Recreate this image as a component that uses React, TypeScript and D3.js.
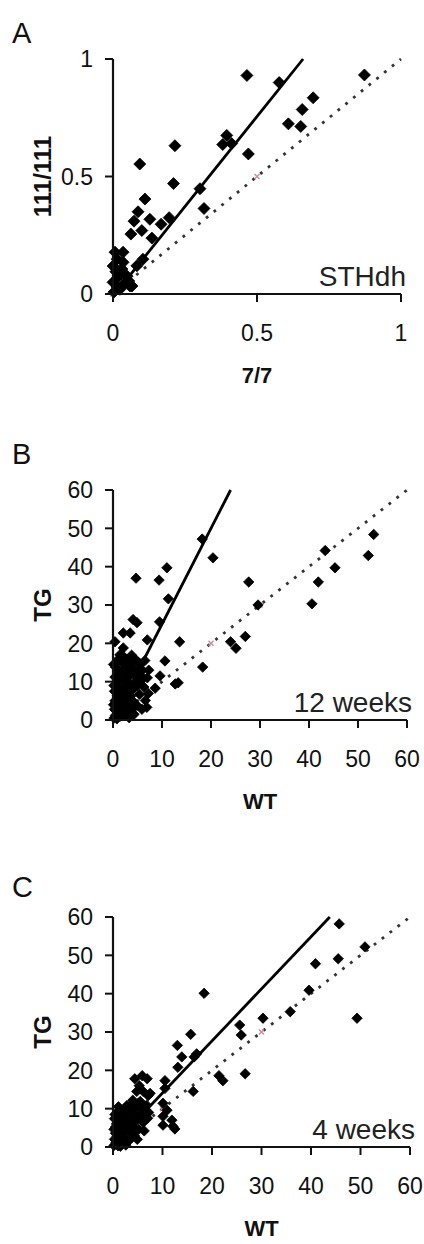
import React from 'react';
import * as d3 from 'd3';

// ---------- Panel A data (7/7 vs 111/111) ----------
const aTicks = [0, 0.5, 1];
const aPoints: [number, number][] = [
  [0.465, 0.93], [0.577, 0.9], [0.873, 0.932], [0.695, 0.835], [0.657, 0.785],
  [0.609, 0.724], [0.652, 0.713], [0.395, 0.675], [0.381, 0.636], [0.412, 0.64],
  [0.215, 0.631], [0.47, 0.596], [0.093, 0.553], [0.21, 0.47], [0.302, 0.448],
  [0.111, 0.404], [0.316, 0.364], [0.087, 0.35], [0.128, 0.318], [0.073, 0.31],
  [0.167, 0.297], [0.195, 0.325], [0.1, 0.27], [0.062, 0.255], [0.135, 0.238],
  [0.007, 0.178], [0.035, 0.178], [0.104, 0.148], [0.083, 0.12], [0.014, 0.148],
  [0.0, 0.119], [0.031, 0.106], [0.017, 0.072], [0.049, 0.076], [0.066, 0.034],
  [0.014, 0.03], [0.0, 0.05], [0.024, 0.02], [0.04, 0.045], [0.003, 0.008],
  [0.055, 0.055], [0.028, 0.085], [0.035, 0.135], [0.059, 0.034], [0.01, 0.095],
];
const aFit: [number, number][] = [[0.01, 0.005], [0.66, 1]];
const aIdentity: [number, number][] = [[0, 0], [1, 1]];
const aPink: [number, number][] = [[0, 0], [0.5, 0.5]];

// ---------- Panel B data (12 weeks) ----------
const bTicks = [0, 10, 20, 30, 40, 50, 60];
const bPoints: [number, number][] = [
  [18.2, 47.2], [20.4, 42.3], [11.0, 39.7], [4.7, 37.0], [9.4, 36.5], [27.7, 36.0],
  [11.3, 31.6], [53.2, 48.4], [52.1, 42.9], [43.3, 44.2], [45.3, 39.7], [41.9, 36.0],
  [40.6, 30.3], [29.6, 30.0], [4.1, 26.2], [4.9, 25.4], [9.5, 25.6], [2.1, 22.7],
  [3.5, 22.7], [13.6, 20.4], [24.0, 20.4], [25.1, 18.7], [27.0, 21.8], [0.4, 20.4],
  [2.1, 18.8], [7.0, 20.9], [10.6, 15.4], [18.3, 13.8], [9.6, 11.5], [12.7, 9.4],
  [13.3, 9.7], [7.3, 13.0], [5.9, 2.8], [8.6, 8.3],
  // dense cluster near origin
  [0.2, 0.5], [0.5, 1.2], [0.8, 0.3], [1.1, 2.0], [0.3, 2.8], [1.5, 1.0], [1.9, 2.5],
  [0.6, 3.6], [2.3, 1.4], [1.2, 4.2], [0.4, 5.0], [2.8, 3.1], [1.7, 5.6], [0.9, 6.3],
  [3.2, 4.8], [2.1, 7.0], [0.3, 7.5], [3.6, 6.2], [1.4, 8.1], [2.6, 8.8], [0.7, 9.4],
  [4.0, 7.9], [3.1, 9.9], [1.8, 10.5], [0.4, 11.2], [4.4, 9.5], [2.4, 11.8], [3.5, 12.4],
  [1.1, 12.9], [4.8, 11.3], [0.5, 13.8], [2.9, 14.2], [1.9, 14.9], [4.1, 13.6], [5.2, 12.8],
  [0.9, 15.6], [3.3, 15.9], [2.2, 16.5], [5.6, 14.6], [4.6, 15.8], [1.4, 17.0], [3.8, 16.9],
  [6.0, 13.0], [5.8, 10.4], [6.3, 8.6], [5.4, 6.7], [6.6, 5.1], [4.9, 3.8], [4.3, 1.5],
  [3.3, 0.6], [6.9, 3.3], [7.2, 6.9], [0.1, 4.0], [0.2, 9.0], [0.1, 14.5], [2.6, 5.8],
  [1.6, 3.0], [3.9, 3.0], [5.0, 9.0], [7.0, 11.0], [6.5, 15.5], [1.0, 11.0], [2.0, 13.0],
  [3.0, 11.0], [4.0, 5.0], [2.5, 10.2], [1.5, 16.0], [5.2, 15.0], [3.0, 1.8], [2.0, 4.2],
  [1.3, 6.5], [3.3, 8.0], [4.5, 12.2], [2.8, 15.8], [5.5, 11.8], [0.8, 8.0], [3.6, 14.8],
];
const bFit: [number, number][] = [[0, 0], [24, 60]];
const bIdentity: [number, number][] = [[0, 0], [60, 60]];
const bPink: [number, number][] = [[20, 20], [30, 30]];

// ---------- Panel C data (4 weeks) ----------
const cTicks = [0, 10, 20, 30, 40, 50, 60];
const cPoints: [number, number][] = [
  [45.7, 58.2], [45.5, 49.1], [40.9, 47.8], [50.9, 52.2], [39.6, 40.9], [35.8, 35.3],
  [49.3, 33.6], [30.3, 33.6], [25.6, 31.8], [25.9, 29.2], [18.4, 40.1], [15.7, 29.4],
  [13.0, 26.5], [13.9, 23.5], [16.9, 24.3], [16.4, 23.5], [13.1, 20.8], [21.4, 18.6],
  [22.2, 17.3], [26.7, 19.1], [16.2, 14.5], [10.5, 17.3], [10.5, 15.3], [10.9, 9.6],
  [10.1, 8.0], [11.9, 7.0], [10.1, 5.7], [12.1, 5.4], [12.5, 4.7], [10.1, 11.4],
  [4.4, 17.8], [5.9, 18.6], [6.9, 17.8], [5.3, 16.0], [6.1, 14.5], [7.5, 14.0],
  [4.0, 12.2], [5.1, 11.4], [4.8, 14.5], [7.1, 13.4], [5.5, 11.9], [7.2, 9.0],
  // dense cluster near origin
  [0.2, 0.4], [0.6, 1.1], [1.0, 0.3], [0.3, 2.0], [1.4, 1.6], [0.8, 2.8], [1.9, 0.8],
  [2.3, 2.2], [0.5, 3.6], [1.6, 3.4], [2.7, 3.9], [3.1, 1.5], [0.2, 4.6], [1.2, 4.9],
  [2.1, 5.3], [3.4, 4.4], [0.7, 6.0], [1.8, 6.6], [2.9, 6.1], [3.9, 5.6], [4.3, 3.0],
  [0.3, 7.4], [1.3, 7.8], [2.5, 8.1], [3.6, 7.5], [4.7, 6.9], [5.2, 4.6], [0.9, 9.0],
  [2.0, 9.4], [3.1, 9.8], [4.2, 8.9], [5.5, 8.2], [6.1, 6.4], [5.8, 9.8], [6.6, 8.6],
  [4.8, 10.4], [3.8, 11.2], [0.5, 5.2], [1.5, 0.2], [2.6, 0.5], [3.7, 2.4], [4.9, 2.0],
  [6.3, 4.2], [7.0, 7.5], [6.8, 10.9], [2.8, 10.8], [1.1, 10.5], [0.4, 8.5],
];
const cFit: [number, number][] = [[0, 0.5], [43.8, 60]];
const cIdentity: [number, number][] = [[0, 0], [60, 60]];
const cPink: [number, number][] = [[10, 10], [30, 30]];

const FONT = '"Liberation Sans", Arial, sans-serif';

const diamond = {
  draw(ctx: any, size: number) {
    const r = Math.sqrt(size / 2);
    ctx.moveTo(0, -r);
    ctx.lineTo(r, 0);
    ctx.lineTo(0, r);
    ctx.lineTo(-r, 0);
    ctx.closePath();
  },
};

interface PanelProps {
  letter: string;
  letterY: number;
  left: number;
  right: number;
  top: number;
  bottom: number;
  max: number;
  ticks: number[];
  points: [number, number][];
  fit: [number, number][];
  identity: [number, number][];
  pink: [number, number][];
  xLabel: string;
  yLabel: string;
  note: string;
  markerR: number;
}

function Panel(p: PanelProps) {
  const x = d3.scaleLinear().domain([0, p.max]).range([p.left, p.right]);
  const y = d3.scaleLinear().domain([0, p.max]).range([p.bottom, p.top]);
  const line = d3.line<[number, number]>().x(d => x(d[0])).y(d => y(d[1]));
  const sym = d3.symbol().type(diamond as any).size(2 * p.markerR * p.markerR)();
  const fmt = (v: number) => String(v);
  return (
    <g>
      <text x={12} y={p.letterY} fontSize={29} fontFamily={FONT} fill="#111">{p.letter}</text>
      {/* identity dotted line */}
      <path d={line(p.identity) || ''} fill="none" stroke="#333" strokeWidth={2.8}
        strokeDasharray="2.8 7.2" />
      {p.pink.map((d, i) => (
        <g key={'pk' + i} transform={`translate(${x(d[0])},${y(d[1])})`} stroke="#d08aa0" strokeWidth={1.4}>
          <line x1={-2.5} y1={-2.5} x2={2.5} y2={2.5} />
          <line x1={-2.5} y1={2.5} x2={2.5} y2={-2.5} />
        </g>
      ))}
      {/* points */}
      {p.points.map((d, i) => (
        <path key={i} d={sym || ''} transform={`translate(${x(d[0])},${y(d[1])})`} fill="#000"
          stroke="#000" strokeWidth={0.8} strokeLinejoin="round" />
      ))}
      {/* fit line */}
      <path d={line(p.fit) || ''} fill="none" stroke="#000" strokeWidth={2.8} />
      {/* axes */}
      <line x1={p.left} y1={p.top} x2={p.left} y2={p.bottom} stroke="#111" strokeWidth={2.2} />
      <line x1={p.left} y1={p.bottom} x2={p.right} y2={p.bottom} stroke="#111" strokeWidth={2.2} />
      {p.ticks.map((t, i) => (
        <g key={'yt' + i}>
          <line x1={p.left - 8} x2={p.left} y1={y(t)} y2={y(t)} stroke="#111" strokeWidth={2} />
          <text x={p.left - 20} y={y(t)} dy="0.36em" textAnchor="end" fontSize={23}
            fontFamily={FONT} fill="#111">{fmt(t)}</text>
        </g>
      ))}
      {p.ticks.map((t, i) => (
        <g key={'xt' + i}>
          <line x1={x(t)} x2={x(t)} y1={p.bottom} y2={p.bottom + 8} stroke="#111" strokeWidth={2} />
          <text x={x(t)} y={p.bottom + 47} textAnchor="middle" fontSize={23}
            fontFamily={FONT} fill="#111">{fmt(t)}</text>
        </g>
      ))}
      <text x={(p.left + p.right) / 2} y={p.bottom + 89} textAnchor="middle" fontSize={22}
        fontWeight="bold" fontFamily={FONT} fill="#111">{p.xLabel}</text>
      <text transform={`translate(51,${(p.top + p.bottom) / 2}) rotate(-90)`} textAnchor="middle"
        fontSize={24} fontWeight="bold" fontFamily={FONT} fill="#111">{p.yLabel}</text>
      <text x={p.right + 5} y={p.bottom - 8} textAnchor="end" fontSize={28}
        fontFamily={FONT} fill="#222">{p.note}</text>
    </g>
  );
}

export default function App() {
  return (
    <div style={{ position: 'absolute', left: 0, top: 0, width: 424, height: 1244, background: '#fff' }}>
      <svg width={424} height={1244} viewBox="0 0 424 1244">
        <rect width={424} height={1244} fill="#fff" />
        <Panel letter="A" letterY={43} left={113} right={401} top={59} bottom={294} max={1}
          ticks={aTicks} points={aPoints} fit={aFit} identity={aIdentity} pink={aPink}
          xLabel="7/7" yLabel="111/111" note="STHdh" markerR={6} />
        <Panel letter="B" letterY={464} left={113} right={407} top={490} bottom={720} max={60}
          ticks={bTicks} points={bPoints} fit={bFit} identity={bIdentity} pink={bPink}
          xLabel="WT" yLabel="TG" note="12 weeks" markerR={5.2} />
        <Panel letter="C" letterY={897} left={113} right={410} top={917} bottom={1147} max={60}
          ticks={cTicks} points={cPoints} fit={cFit} identity={cIdentity} pink={cPink}
          xLabel="WT" yLabel="TG" note="4 weeks" markerR={5.2} />
      </svg>
    </div>
  );
}
